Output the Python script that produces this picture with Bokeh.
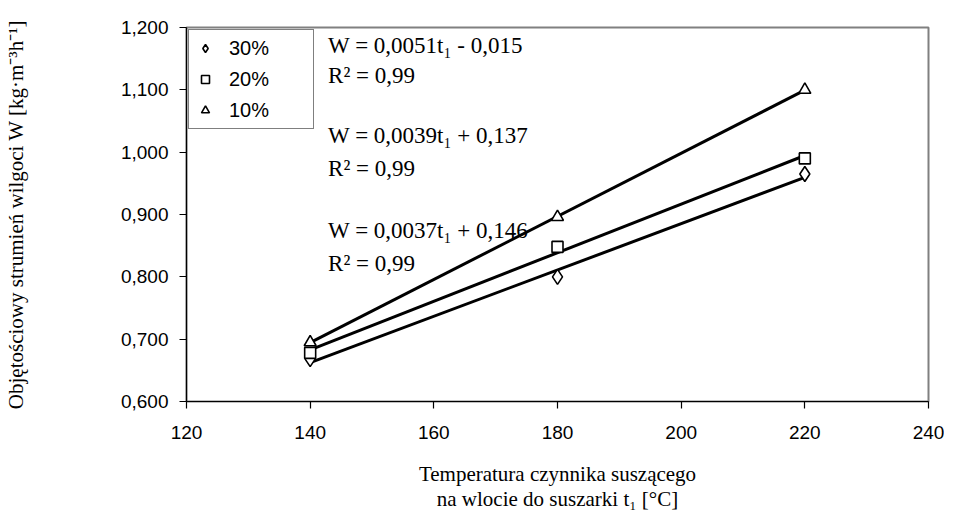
import numpy as np
from bokeh.plotting import figure
from bokeh.models import Label, Legend, LegendItem, FixedTicker, CustomJSTickFormatter, Range1d
from bokeh.embed import file_html
from bokeh.resources import INLINE

# ---- data ----
temps = [140, 180, 220]
w_30 = [0.668, 0.800, 0.965]
w_20 = [0.678, 0.848, 0.990]
w_10 = [0.695, 0.896, 1.100]
series_labels = ["30%", "20%", "10%"]
series_markers = ["diamond", "square", "triangle"]
marker_sizes = [15, 11, 12]
equations_10_20_30 = ["W = 0,0051t\u2081 - 0,015", "W = 0,0039t\u2081 + 0,137", "W = 0,0037t\u2081 + 0,146"]
r2_text = "R\u00b2 = 0,99"
x_ticks = [120, 140, 160, 180, 200, 220, 240]
y_ticks = [0.6, 0.7, 0.8, 0.9, 1.0, 1.1, 1.2]
x_label = "Temperatura czynnika suszącego\nna wlocie do suszarki t\u2081 [\u00b0C]"
y_label = "Objętościowy strumień wilgoci W [kg\u00b7m\u207b\u00b3h\u207b\u00b9]"

SANS = "Liberation Sans"
SERIF = "Liberation Serif"

p = figure(width=944, height=513, output_backend="svg", toolbar_location=None,
           x_range=Range1d(120, 240), y_range=Range1d(0.6, 1.2),
           min_border_left=185, min_border_right=16, min_border_top=27, min_border_bottom=111)
p.background_fill_color = "white"
p.border_fill_color = "white"
p.outline_line_color = "#808080"
p.outline_line_width = 2
p.grid.visible = False

for ax in (p.xaxis[0], p.yaxis[0]):
    ax.axis_line_color = "black"
    ax.axis_line_width = 1.2
    ax.major_tick_line_color = "black"
    ax.major_tick_line_width = 1.2
    ax.major_tick_out = 7
    ax.major_tick_in = 0
    ax.minor_tick_line_color = None
    ax.major_label_text_font = SANS
    ax.major_label_text_font_size = "19px"
    ax.major_label_text_color = "black"
    ax.axis_label_text_font = SERIF
    ax.axis_label_text_font_style = "normal"
    ax.axis_label_text_color = "black"

p.yaxis.axis_label_text_font_size = "21px"
p.xaxis.axis_label_text_font_size = "21px"
p.xaxis.axis_label_text_line_height = 1.05
p.xaxis.ticker = FixedTicker(ticks=x_ticks)
p.yaxis.ticker = FixedTicker(ticks=y_ticks)
p.yaxis.formatter = CustomJSTickFormatter(code="return tick.toFixed(3).replace('.', ',');")
p.xaxis.major_label_standoff = 17
p.yaxis.major_label_standoff = 11
p.xaxis.axis_label = x_label
p.yaxis.axis_label = y_label
p.xaxis.axis_label_standoff = 20
p.yaxis.axis_label_standoff = 90

items = []
for ys, lab, mk, sz in zip([w_30, w_20, w_10], series_labels, series_markers, marker_sizes):
    coef = np.polyfit(temps, ys, 1)
    xs = np.array([temps[0], temps[-1]])
    p.line(xs, np.polyval(coef, xs), line_color="black", line_width=3)
    r = p.scatter(temps, ys, marker=mk, size=sz, fill_color="white",
                  line_color="black", line_width=1.6)
    items.append(LegendItem(label=lab, renderers=[r]))

legend = Legend(items=items, location="top_left", margin=2, padding=6, spacing=7,
                glyph_width=20, glyph_height=24, label_height=24, label_width=78,
                label_standoff=14, label_text_font=SANS, label_text_font_size="20px",
                label_text_color="black",
                border_line_color="black", border_line_width=1,
                background_fill_color="white", background_fill_alpha=1)
p.add_layout(legend)

eq_x = 142.9
eq_ys = [1.171, 1.026, 0.874]
r2_ys = [1.123, 0.974, 0.822]
for eq, ey, ry in zip(equations_10_20_30, eq_ys, r2_ys):
    p.add_layout(Label(x=eq_x, y=ey, text=eq, text_font=SERIF, text_font_size="23px",
                       text_baseline="middle", text_color="black"))
    p.add_layout(Label(x=eq_x, y=ry, text=r2_text, text_font=SERIF, text_font_size="23px",
                       text_baseline="middle", text_color="black"))

open("out.html", "w").write(file_html(p, INLINE))
